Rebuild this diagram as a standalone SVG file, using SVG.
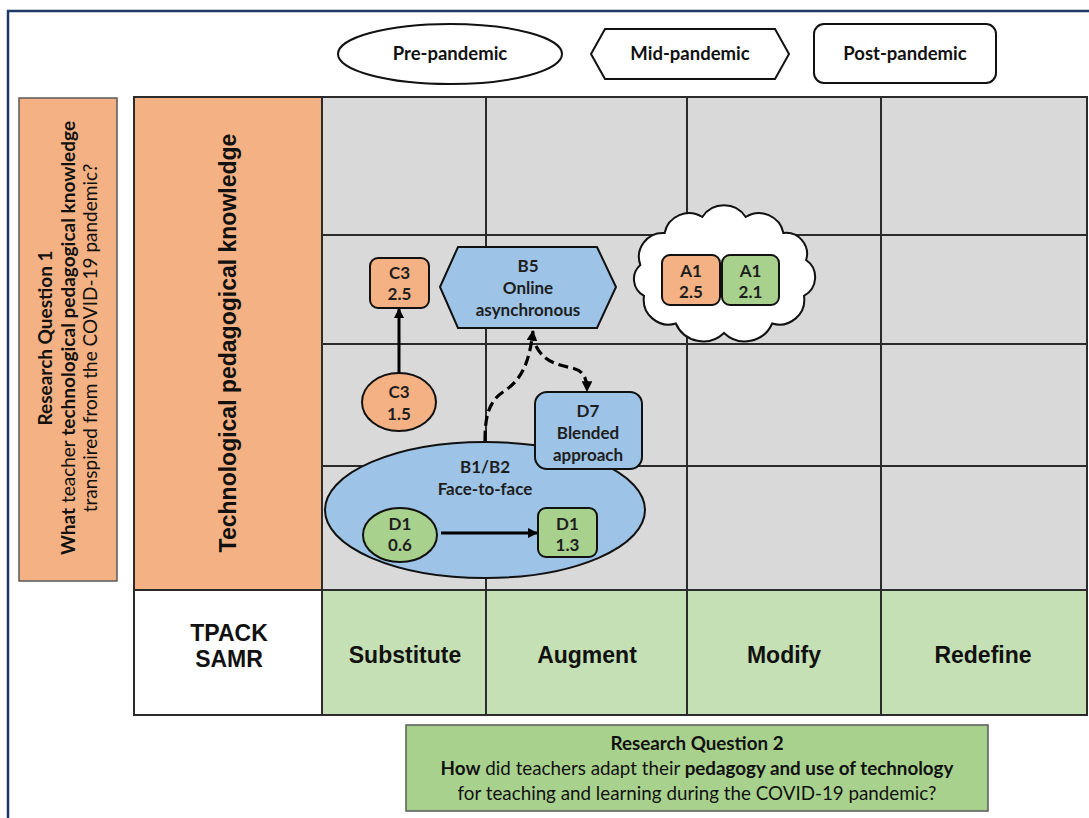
<svg xmlns="http://www.w3.org/2000/svg" width="1089" height="818" viewBox="0 0 1089 818">
  <style>
    .grid { fill: none; stroke: #2b2b2b; stroke-width: 2; }
    .cell { font-family: "Liberation Sans", Arial, sans-serif; font-weight: bold; font-size: 23px; text-anchor: middle; fill: #111; }
    .hdr { font-family: Lato, "Liberation Sans", sans-serif; font-weight: bold; font-size: 18.5px; text-anchor: middle; fill: #111; }
    .lbl { font-family: Lato, "Liberation Sans", sans-serif; font-weight: bold; font-size: 17px; text-anchor: middle; fill: #1e1e1e; }
    .rq { font-family: Lato, "Liberation Sans", sans-serif; font-size: 19px; text-anchor: middle; fill: #111; }
    .rq2 { font-size: 18.8px; }
    .b { font-weight: bold; }
    .shape { stroke: #111; stroke-width: 2; }
    .orange { fill: #F4B183; }
    .green { fill: #A9D18E; }
    .blue { fill: #9DC3E6; }
    .solid { fill: none; stroke: #000; stroke-width: 3; }
    .dash { fill: none; stroke: #000; stroke-width: 3.2; stroke-dasharray: 10 5; }
  </style>
  <defs>
    <marker id="head" viewBox="0 0 10 10" refX="9" refY="5" markerWidth="3.4" markerHeight="3.4" orient="auto" markerUnits="strokeWidth">
      <path d="M0,0 L10,5 L0,10 Z" fill="#000"/>
    </marker>
  </defs>

  <rect width="1089" height="818" fill="#fff"/>
  <!-- outer frame -->
  <path d="M8,830 V11 H1100" fill="none" stroke="#1F3864" stroke-width="2.5"/>

  <!-- timeline legend -->
  <g id="legend">
    <g id="pre-pandemic">
      <ellipse cx="450" cy="54" rx="112" ry="30" fill="#fff" class="shape"/>
      <text x="450" y="60" class="hdr">Pre-pandemic</text>
    </g>
    <g id="mid-pandemic">
      <polygon points="591,54 605,29 775,29 789,54 775,79 605,79" fill="#fff" class="shape"/>
      <text x="690" y="60" class="hdr">Mid-pandemic</text>
    </g>
    <g id="post-pandemic">
      <rect x="814" y="24" width="182" height="59" rx="10" fill="#fff" class="shape"/>
      <text x="905" y="60" class="hdr">Post-pandemic</text>
    </g>
  </g>

  <!-- research question 1 -->
  <g id="rq1">
    <rect x="19" y="98" width="98" height="483" fill="#F4B183" stroke="#595959" stroke-width="1.5"/>
    <text transform="rotate(-90)" x="-338" y="52" class="rq b">Research Question 1</text>
    <text transform="rotate(-90)" x="-338" y="75" class="rq"><tspan class="b">What</tspan> teacher <tspan class="b">technological pedagogical knowledge</tspan></text>
    <text transform="rotate(-90)" x="-338" y="97" class="rq">transpired from the COVID-19 pandemic?</text>
  </g>

  <!-- TPACK / SAMR grid -->
  <g id="grid">
    <rect x="134" y="97" width="188" height="493" fill="#F4B183"/>
    <rect x="322" y="97" width="765" height="493" fill="#D9D9D9"/>
    <rect x="134" y="590" width="188" height="125" fill="#fff"/>
    <rect x="322" y="590" width="765" height="125" fill="#C5E0B4"/>
    <path class="grid" d="M322,235 H1087 M322,344 H1087 M322,466 H1087 M134,590 H1087 M322,97 V715 M486,97 V715 M687,97 V715 M881,97 V715"/>
    <rect class="grid" x="134" y="97" width="953" height="618"/>
    <text transform="rotate(-90)" x="-343" y="236" class="cell" font-size="24">Technological pedagogical knowledge</text>
    <text x="229" y="641" class="cell" font-size="22">TPACK</text>
    <text x="229" y="667" class="cell" font-size="22">SAMR</text>
    <text x="405" y="663" class="cell">Substitute</text>
    <text x="587" y="663" class="cell">Augment</text>
    <text x="784" y="663" class="cell">Modify</text>
    <text x="983" y="663" class="cell">Redefine</text>
  </g>

  <!-- nodes -->
  <g id="node-b1b2">
    <ellipse cx="485" cy="510" rx="160" ry="68" class="shape blue"/>
    <text x="485" y="473" class="lbl">B1/B2</text>
    <text x="485" y="495" class="lbl">Face-to-face</text>
  </g>
  <g id="node-d7">
    <rect x="535" y="392" width="107" height="77" rx="12" class="shape blue"/>
    <text x="588" y="417" class="lbl">D7</text>
    <text x="588" y="439" class="lbl">Blended</text>
    <text x="588" y="461" class="lbl">approach</text>
  </g>
  <g id="node-b5">
    <polygon points="440,287 458,247 597,247 616,287 597,328 458,328" class="shape blue"/>
    <text x="528" y="272" class="lbl">B5</text>
    <text x="528" y="294" class="lbl">Online</text>
    <text x="528" y="316" class="lbl">asynchronous</text>
  </g>
  <g id="node-c3-25">
    <rect x="370" y="258" width="59" height="50" rx="8" class="shape orange"/>
    <text x="399.5" y="279" class="lbl">C3</text>
    <text x="399.5" y="300" class="lbl">2.5</text>
  </g>
  <g id="node-c3-15">
    <ellipse cx="399" cy="402" rx="37" ry="29" class="shape orange"/>
    <text x="399" y="398" class="lbl">C3</text>
    <text x="399" y="420" class="lbl">1.5</text>
  </g>
  <g id="node-d1-06">
    <ellipse cx="400" cy="535" rx="37" ry="27" class="shape green"/>
    <text x="400" y="530" class="lbl">D1</text>
    <text x="400" y="551" class="lbl">0.6</text>
  </g>
  <g id="node-d1-13">
    <rect x="538" y="508" width="59" height="49" rx="8" class="shape green"/>
    <text x="567.5" y="530" class="lbl">D1</text>
    <text x="567.5" y="551" class="lbl">1.3</text>
  </g>
  <g id="node-a1">
    <path d="M640.3,264.9 A24,24 0 0 1 664.6,233 A25,25 0 0 1 702.3,217 A26,26 0 0 1 745.7,217 A25,25 0 0 1 783.4,233 A21,21 0 0 1 806.1,260 A21,21 0 0 1 804,295.8 A25,25 0 0 1 772.2,323.5 A30,30 0 0 1 724,333 A30,30 0 0 1 675.8,323.5 A25,25 0 0 1 644,295.8 A19,19 0 0 1 640.3,264.9 Z" fill="#fff" class="shape"/>
    <rect x="662" y="255" width="58" height="50" rx="8" class="shape orange"/>
    <text x="691" y="277" class="lbl">A1</text>
    <text x="691" y="298" class="lbl">2.5</text>
    <rect x="722" y="255" width="57" height="50" rx="8" class="shape green"/>
    <text x="750.5" y="277" class="lbl">A1</text>
    <text x="750.5" y="298" class="lbl">2.1</text>
  </g>

  <!-- connectors -->
  <g id="connectors">
    <path class="solid" d="M399,373 V309" marker-end="url(#head)"/>
    <path class="solid" d="M441,533 H537" marker-end="url(#head)"/>
    <path class="dash" d="M485,441 C485,418 488,402 503,392 C520,381 529,366 533,331" marker-end="url(#head)"/>
    <path class="dash" d="M536,346 C544,362 558,365 572,368 C584,371 587,378 587,391" marker-end="url(#head)"/>
  </g>

  <!-- research question 2 -->
  <g id="rq2">
    <rect x="406" y="725" width="582" height="86" fill="#A9D18E" stroke="#595959" stroke-width="1.5"/>
    <text x="697" y="750" class="rq rq2 b">Research Question 2</text>
    <text x="697" y="775" class="rq rq2"><tspan class="b">How</tspan> did teachers adapt their <tspan class="b">pedagogy and use of technology</tspan></text>
    <text x="697" y="800" class="rq rq2">for teaching and learning during the COVID-19 pandemic?</text>
  </g>
</svg>
